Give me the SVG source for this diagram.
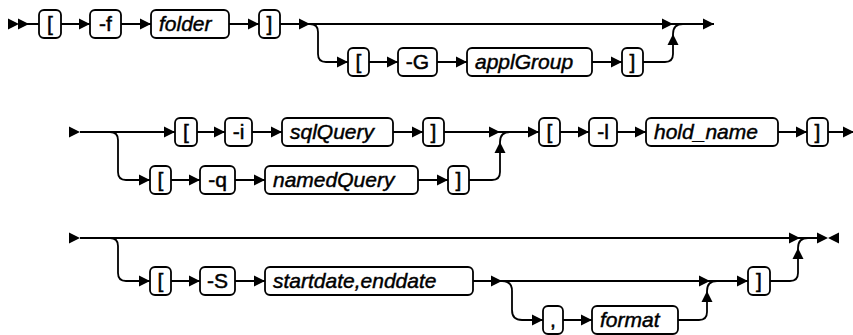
<svg xmlns="http://www.w3.org/2000/svg" xmlns:xlink="http://www.w3.org/1999/xlink" width="853" height="335" viewBox="0 0 853 335">
<style>
.bx{fill:#fff;stroke:#000;stroke-width:1.8}
.kw{font-family:"Liberation Sans Narrow","Liberation Sans",Arial,sans-serif;font-size:21px;fill:#000;stroke:#000;stroke-width:0.5;text-anchor:middle}
.var{font-family:"Liberation Sans",Arial,sans-serif;font-size:21px;font-style:italic;fill:#000;stroke:#000;stroke-width:0.45}
.ln{fill:none;stroke:#000;stroke-width:1.8}
</style>
<defs>
<path id="ar" d="M-11,-5.5 L0,0 L-11,5.5 Z" fill="#000"/>
<path id="au" d="M-5.5,11 L0,0 L5.5,11 Z" fill="#000"/>
<path id="al" d="M11,-5.5 L0,0 L11,5.5 Z" fill="#000"/>
</defs>
<g id="connectors">
<path class="ln" d="M19,24 H39 M61,24 H90 M121,24 H151 M229,24 H259 M280,24 H714"/>
<path class="ln" d="M310,24 Q318,24 318,32 V54 Q318,62 326,62 H348 M369,62 H398 M437,62 H467 M592,62 H622 M643,62 H665 Q673,62 673,54 V34 M673,34 Q673,24 683,24"/>
<use xlink:href="#ar" x="19" y="24"/><use xlink:href="#ar" x="29" y="24"/>
<use xlink:href="#ar" x="90" y="24"/><use xlink:href="#ar" x="151" y="24"/><use xlink:href="#ar" x="259" y="24"/>
<use xlink:href="#ar" x="310" y="24"/><use xlink:href="#ar" x="673" y="24"/><use xlink:href="#ar" x="714" y="24"/>
<use xlink:href="#ar" x="348" y="62"/><use xlink:href="#ar" x="398" y="62"/><use xlink:href="#ar" x="467" y="62"/><use xlink:href="#ar" x="622" y="62"/>
<use xlink:href="#au" x="673" y="34"/>
<path class="ln" d="M80,132 H175 M197,132 H225 M252,132 H282 M393,132 H423 M444,132 H539 M560,132 H589 M617,132 H646 M778,132 H807 M828,132 H853"/>
<path class="ln" d="M110,132 Q118,132 118,140 V172 Q118,180 126,180 H150 M171,180 H200 M235,180 H265 M418,180 H448 M469,180 H492 Q500,180 500,172 V142 M500,142 Q500,132 510,132"/>
<use xlink:href="#ar" x="80" y="132"/><use xlink:href="#ar" x="175" y="132"/><use xlink:href="#ar" x="225" y="132"/><use xlink:href="#ar" x="282" y="132"/>
<use xlink:href="#ar" x="423" y="132"/><use xlink:href="#ar" x="500" y="132"/><use xlink:href="#ar" x="539" y="132"/><use xlink:href="#ar" x="589" y="132"/>
<use xlink:href="#ar" x="646" y="132"/><use xlink:href="#ar" x="807" y="132"/><use xlink:href="#ar" x="854" y="132"/>
<use xlink:href="#ar" x="150" y="180"/><use xlink:href="#ar" x="200" y="180"/><use xlink:href="#ar" x="265" y="180"/><use xlink:href="#ar" x="448" y="180"/>
<use xlink:href="#au" x="500" y="142"/>
<path class="ln" d="M80,238 H818"/>
<path class="ln" d="M110,238 Q118,238 118,246 V273 Q118,281 126,281 H150 M171,281 H200 M235,281 H265 M473,281 H748 M770,281 H790 Q798,281 798,273 V248 M798,248 Q798,238 808,238"/>
<path class="ln" d="M502,281 Q512,281 512,291 V310 Q512,320 522,320 H543 M563,320 H592 M678,320 H699 Q707,320 707,312 V291 M707,291 Q707,281 717,281"/>
<use xlink:href="#ar" x="80" y="238"/><use xlink:href="#ar" x="800" y="238"/><use xlink:href="#ar" x="828" y="238"/><use xlink:href="#al" x="828" y="238"/>
<use xlink:href="#ar" x="150" y="281"/><use xlink:href="#ar" x="200" y="281"/><use xlink:href="#ar" x="265" y="281"/><use xlink:href="#ar" x="502" y="281"/>
<use xlink:href="#ar" x="710" y="281"/><use xlink:href="#ar" x="748" y="281"/>
<use xlink:href="#ar" x="543" y="320"/><use xlink:href="#ar" x="592" y="320"/>
<use xlink:href="#au" x="707" y="291"/><use xlink:href="#au" x="798" y="248"/>
</g>
<g id="n1"><rect class="bx" x="39" y="10" width="22" height="28" rx="5"/><text class="kw" x="50" y="31">[</text></g>
<g id="n2"><rect class="bx" x="90" y="10" width="31" height="28" rx="5"/><text class="kw" x="105.5" y="31">-f</text></g>
<g id="n3"><rect class="bx" x="151" y="10" width="78" height="28" rx="5"/><text class="var" x="159" y="31">folder</text></g>
<g id="n4"><rect class="bx" x="259" y="10" width="21" height="28" rx="5"/><text class="kw" x="269.5" y="31">]</text></g>
<g id="n5"><rect class="bx" x="348" y="48" width="21" height="28" rx="5"/><text class="kw" x="358.5" y="69">[</text></g>
<g id="n6"><rect class="bx" x="398" y="48" width="39" height="28" rx="5"/><text class="kw" x="417.5" y="69">-G</text></g>
<g id="n7"><rect class="bx" x="467" y="48" width="125" height="28" rx="5"/><text class="var" x="475" y="69">applGroup</text></g>
<g id="n8"><rect class="bx" x="622" y="48" width="21" height="28" rx="5"/><text class="kw" x="632.5" y="69">]</text></g>
<g id="n9"><rect class="bx" x="175" y="118" width="22" height="28" rx="5"/><text class="kw" x="186" y="139">[</text></g>
<g id="n10"><rect class="bx" x="225" y="118" width="27" height="28" rx="5"/><text class="kw" x="238.5" y="139">-i</text></g>
<g id="n11"><rect class="bx" x="282" y="118" width="111" height="28" rx="5"/><text class="var" x="290" y="139">sqlQuery</text></g>
<g id="n12"><rect class="bx" x="423" y="118" width="21" height="28" rx="5"/><text class="kw" x="433.5" y="139">]</text></g>
<g id="n13"><rect class="bx" x="150" y="166" width="21" height="28" rx="5"/><text class="kw" x="160.5" y="187">[</text></g>
<g id="n14"><rect class="bx" x="200" y="166" width="35" height="28" rx="5"/><text class="kw" x="217.5" y="187">-q</text></g>
<g id="n15"><rect class="bx" x="265" y="166" width="153" height="28" rx="5"/><text class="var" x="273" y="187">namedQuery</text></g>
<g id="n16"><rect class="bx" x="448" y="166" width="21" height="28" rx="5"/><text class="kw" x="458.5" y="187">]</text></g>
<g id="n17"><rect class="bx" x="539" y="118" width="21" height="28" rx="5"/><text class="kw" x="549.5" y="139">[</text></g>
<g id="n18"><rect class="bx" x="589" y="118" width="28" height="28" rx="5"/><text class="kw" x="603" y="139">-l</text></g>
<g id="n19"><rect class="bx" x="646" y="118" width="132" height="28" rx="5"/><text class="var" x="654" y="139">hold_name</text></g>
<g id="n20"><rect class="bx" x="807" y="118" width="21" height="28" rx="5"/><text class="kw" x="817.5" y="139">]</text></g>
<g id="n21"><rect class="bx" x="150" y="267" width="21" height="28" rx="5"/><text class="kw" x="160.5" y="288">[</text></g>
<g id="n22"><rect class="bx" x="200" y="267" width="35" height="28" rx="5"/><text class="kw" x="217.5" y="288">-S</text></g>
<g id="n23"><rect class="bx" x="265" y="267" width="208" height="28" rx="5"/><text class="var" x="273" y="288">startdate,enddate</text></g>
<g id="n24"><rect class="bx" x="543" y="306" width="20" height="28" rx="5"/><text class="kw" x="553" y="327">,</text></g>
<g id="n25"><rect class="bx" x="592" y="306" width="86" height="28" rx="5"/><text class="var" x="600" y="327">format</text></g>
<g id="n26"><rect class="bx" x="748" y="267" width="22" height="28" rx="5"/><text class="kw" x="759" y="288">]</text></g>
</svg>
